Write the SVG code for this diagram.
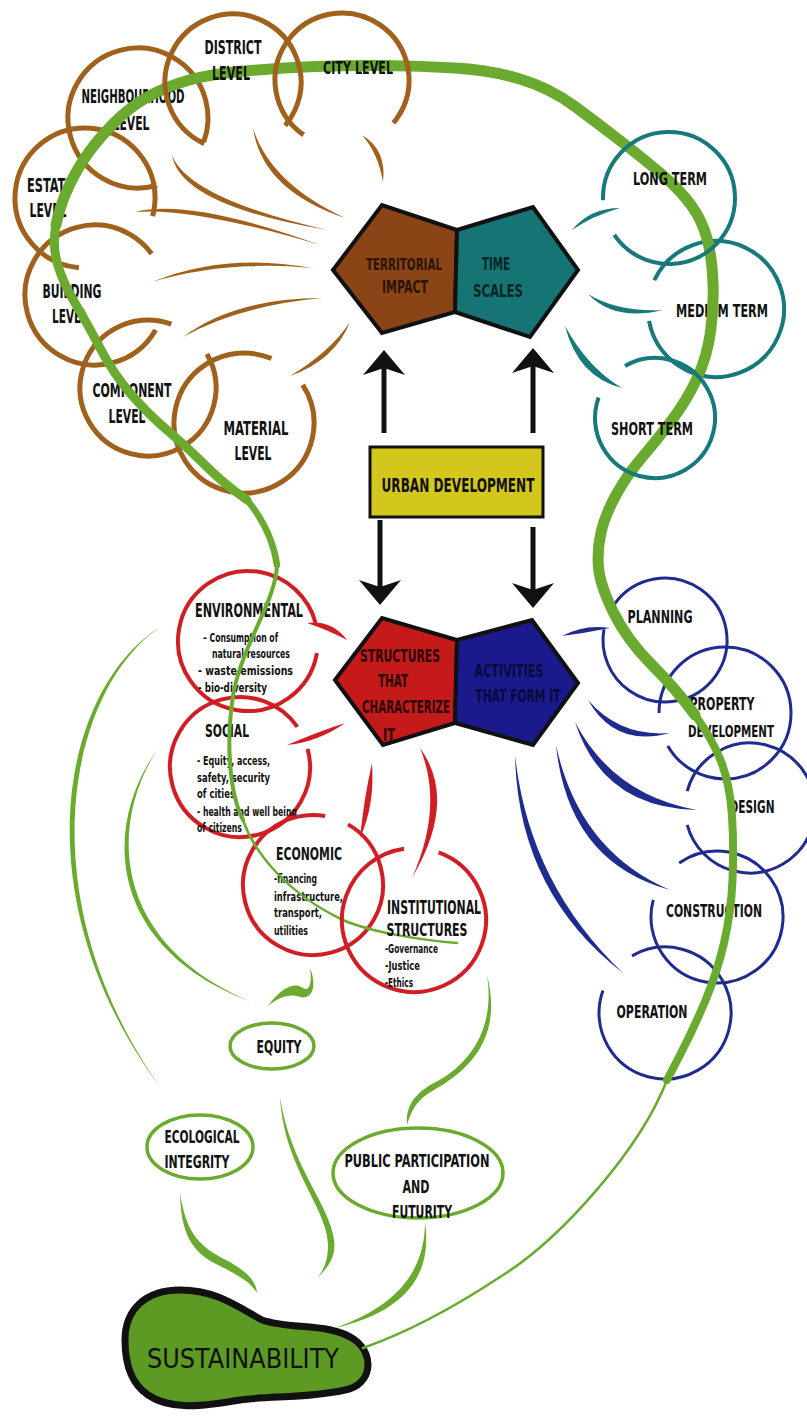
<svg xmlns="http://www.w3.org/2000/svg" width="807" height="1416" viewBox="0 0 807 1416">
<defs>
<style>
.lb{font-family:"Liberation Sans Narrow","DejaVu Sans Condensed","Arial Narrow",sans-serif;font-weight:bold;fill:#111;text-anchor:middle;font-size:20px}
.md{font-size:18px}
.sm{font-family:"Liberation Sans Narrow","DejaVu Sans Condensed","Arial Narrow",sans-serif;font-weight:bold;fill:#111;font-size:13px}
.brc{fill:none;stroke:#a0611d;stroke-width:5}
.tlc{fill:none;stroke:#17797a;stroke-width:4}
.rdc{fill:none;stroke:#cf1f25;stroke-width:4}
.blc{fill:none;stroke:#1f2c8e;stroke-width:3}
.gre{fill:none;stroke:#6aab2f;stroke-width:3.5}
.pent{stroke:#111;stroke-width:4;stroke-linejoin:miter}
.wbr{fill:#a0611d}.wtl{fill:#17797a}.wrd{fill:#cf1f25}.wbl{fill:#1f2c8e}.wgr{fill:#6aab2f}
.gl{fill:none;stroke:#6aab2f;stroke-linecap:round;stroke-linejoin:round}
.arr{fill:none;stroke:#111;stroke-width:5;marker-end:url(#ah)}
</style>
<marker id="ah" viewBox="0 0 25 42" refX="18" refY="21" markerWidth="25" markerHeight="42" markerUnits="userSpaceOnUse" orient="auto">
<path d="M25,21 L0,0 L7,21 L0,42 Z" fill="#111"/>
</marker>
</defs>
<rect width="807" height="1416" fill="#fff"/>

<!-- brown territorial nodes -->
<g id="neighbourhood-level">
<circle class="brc" cx="138" cy="118" r="70" pathLength="360" stroke-dasharray="305 55" transform="rotate(75 138 118)"/>
<text class="lb" x="133" y="103" textLength="103" lengthAdjust="spacingAndGlyphs">NEIGHBOURHOOD</text>
<text class="lb" x="131" y="130" textLength="37" lengthAdjust="spacingAndGlyphs">LEVEL</text>
</g>
<g id="estate-level">
<circle class="brc" cx="85" cy="198" r="70" pathLength="360" stroke-dasharray="280 80" transform="rotate(95 85 198)"/>
<text class="lb" x="50" y="192" textLength="46" lengthAdjust="spacingAndGlyphs">ESTATE</text>
<text class="lb" x="48" y="217" textLength="37" lengthAdjust="spacingAndGlyphs">LEVEL</text>
</g>
<g id="building-level">
<circle class="brc" cx="95" cy="295" r="70" pathLength="360" stroke-dasharray="294 66" transform="rotate(30 95 295)"/>
<text class="lb" x="72" y="298" textLength="59" lengthAdjust="spacingAndGlyphs">BUILDING</text>
<text class="lb" x="70" y="323" textLength="36" lengthAdjust="spacingAndGlyphs">LEVEL</text>
</g>
<g id="component-level">
<circle class="brc" cx="148" cy="388" r="68" pathLength="360" stroke-dasharray="320 40" transform="rotate(330 148 388)"/>
<text class="lb" x="132" y="397" textLength="79" lengthAdjust="spacingAndGlyphs">COMPONENT</text>
<text class="lb" x="127" y="423" textLength="37" lengthAdjust="spacingAndGlyphs">LEVEL</text>
</g>
<g id="material-level">
<circle class="brc" cx="244" cy="423" r="70" pathLength="360" stroke-dasharray="326 34" transform="rotate(327 244 423)"/>
<text class="lb" x="256" y="435" textLength="65" lengthAdjust="spacingAndGlyphs">MATERIAL</text>
<text class="lb" x="253" y="460" textLength="37" lengthAdjust="spacingAndGlyphs">LEVEL</text>
</g>

<!-- teal time node -->
<g id="medium-term">
<circle class="tlc" cx="716" cy="309" r="68" pathLength="360" stroke-dasharray="325 35" transform="rotate(205 716 309)"/>
<text class="lb md" x="722" y="317" textLength="92" lengthAdjust="spacingAndGlyphs">MEDIUM TERM</text>
</g>

<!-- pentagons -->
<g id="territorial-impact">
<polygon class="pent" points="333,270 382,205 457,230 455,312 382,333" fill="#8a4416"/>
<text class="lb md" x="404" y="270" style="fill:#2a1406;font-size:16px" textLength="76" lengthAdjust="spacingAndGlyphs">TERRITORIAL</text>
<text class="lb md" x="405" y="293" textLength="46" lengthAdjust="spacingAndGlyphs" style="fill:#2a1406">IMPACT</text>
</g>
<g id="time-scales">
<polygon class="pent" points="457,230 533,207 578,270 530,337 455,312" fill="#167474"/>
<text class="lb md" x="496" y="270" textLength="28" lengthAdjust="spacingAndGlyphs" style="fill:#062626">TIME</text>
<text class="lb md" x="498" y="297" textLength="50" lengthAdjust="spacingAndGlyphs" style="fill:#062626">SCALES</text>
</g>
<g id="urban-development">
<rect x="370" y="447" width="173" height="70" fill="#d3c61c" stroke="#111" stroke-width="3"/>
<text class="lb" x="458" y="492" textLength="153" lengthAdjust="spacingAndGlyphs">URBAN DEVELOPMENT</text>
</g>
<g id="structures">
<polygon class="pent" points="335,680 382,618 457,640 455,723 383,745" fill="#c41a1a"/>
<text class="lb md" x="400" y="662" textLength="80" lengthAdjust="spacingAndGlyphs" style="fill:#2a0505">STRUCTURES</text>
<text class="lb md" x="393" y="687" textLength="30" lengthAdjust="spacingAndGlyphs" style="fill:#2a0505">THAT</text>
<text class="lb md" x="406" y="713" textLength="88" lengthAdjust="spacingAndGlyphs" style="fill:#2a0505">CHARACTERIZE</text>
<text class="lb md" x="389" y="741" textLength="12" lengthAdjust="spacingAndGlyphs" style="fill:#2a0505">IT</text>
</g>
<g id="activities">
<polygon class="pent" points="457,640 532,620 578,683 533,745 455,723" fill="#1a1a8c"/>
<text class="lb md" x="509" y="677" textLength="69" lengthAdjust="spacingAndGlyphs" style="fill:#0a0a3a">ACTIVITIES</text>
<text class="lb md" x="518" y="702" textLength="85" lengthAdjust="spacingAndGlyphs" style="fill:#0a0a3a">THAT FORM IT</text>
</g>

<!-- red structure nodes -->
<g id="environmental">
<circle class="rdc" cx="248" cy="641" r="70" pathLength="360" stroke-dasharray="335 25" transform="rotate(10 248 641)"/>
<text class="lb" x="249" y="617" textLength="108" lengthAdjust="spacingAndGlyphs">ENVIRONMENTAL</text>
<text class="sm" x="203" y="642" textLength="75" lengthAdjust="spacingAndGlyphs">– Consumption of</text>
<text class="sm" x="212" y="658" textLength="78" lengthAdjust="spacingAndGlyphs">natural resources</text>
<text class="sm" x="198" y="675" textLength="95" lengthAdjust="spacingAndGlyphs">- waste/emissions</text>
<text class="sm" x="198" y="692" textLength="69" lengthAdjust="spacingAndGlyphs">- bio-diversity</text>
</g>
<g id="social">
<circle class="rdc" cx="240" cy="767" r="70" pathLength="360" stroke-dasharray="340 20" transform="rotate(345 240 767)"/>
<text class="lb md" x="227" y="737" textLength="44" lengthAdjust="spacingAndGlyphs">SOCIAL</text>
<text class="sm" x="197" y="765" textLength="73" lengthAdjust="spacingAndGlyphs">- Equity, access,</text>
<text class="sm" x="197" y="782" textLength="73" lengthAdjust="spacingAndGlyphs">safety, security</text>
<text class="sm" x="197" y="798" textLength="38" lengthAdjust="spacingAndGlyphs">of cities</text>
<text class="sm" x="197" y="816" textLength="100" lengthAdjust="spacingAndGlyphs">- health and well being</text>
<text class="sm" x="197" y="832" textLength="45" lengthAdjust="spacingAndGlyphs">of citizens</text>
</g>
<g id="economic">
<circle class="rdc" cx="313" cy="885" r="70" pathLength="360" stroke-dasharray="340 20" transform="rotate(300 313 885)"/>
<text class="lb md" x="309" y="860" textLength="66" lengthAdjust="spacingAndGlyphs">ECONOMIC</text>
<text class="sm" x="274" y="883" textLength="43" lengthAdjust="spacingAndGlyphs">-financing</text>
<text class="sm" x="274" y="901" textLength="69" lengthAdjust="spacingAndGlyphs">infrastructure,</text>
<text class="sm" x="274" y="917" textLength="48" lengthAdjust="spacingAndGlyphs">transport,</text>
<text class="sm" x="274" y="935" textLength="34" lengthAdjust="spacingAndGlyphs">utilities</text>
</g>

<!-- blue activity nodes -->
<g id="planning">
<circle class="blc" cx="665" cy="640" r="62" pathLength="360" stroke-dasharray="335 25" transform="rotate(215 665 640)"/>
<text class="lb md" x="660" y="623" textLength="65" lengthAdjust="spacingAndGlyphs">PLANNING</text>
</g>
<g id="property-development">
<circle class="blc" cx="725" cy="713" r="66" pathLength="360" stroke-dasharray="330 30" transform="rotate(180 725 713)"/>
<text class="lb md" x="722" y="710" textLength="65" lengthAdjust="spacingAndGlyphs">PROPERTY</text>
<text class="lb md" x="731" y="737" style="font-size:16px" textLength="86" lengthAdjust="spacingAndGlyphs">DEVELOPMENT</text>
</g>
<g id="design">
<circle class="blc" cx="750" cy="808" r="65" pathLength="360" stroke-dasharray="330 30" transform="rotate(195 750 808)"/>
<text class="lb md" x="752" y="813" textLength="45" lengthAdjust="spacingAndGlyphs">DESIGN</text>
</g>
<g id="construction">
<circle class="blc" cx="717" cy="917" r="66" pathLength="360" stroke-dasharray="320 40" transform="rotate(235 717 917)"/>
<text class="lb md" x="714" y="917" textLength="96" lengthAdjust="spacingAndGlyphs">CONSTRUCTION</text>
</g>
<g id="operation">
<circle class="blc" cx="665" cy="1013" r="66" pathLength="360" stroke-dasharray="320 40" transform="rotate(240 665 1013)"/>
<text class="lb md" x="652" y="1018" textLength="71" lengthAdjust="spacingAndGlyphs">OPERATION</text>
</g>

<!-- green principle nodes -->
<g id="equity">
<ellipse class="gre" cx="272" cy="1046" rx="42" ry="23"/>
<text class="lb md" x="279" y="1053" textLength="45" lengthAdjust="spacingAndGlyphs">EQUITY</text>
</g>
<g id="ecological-integrity">
<ellipse class="gre" cx="200" cy="1147" rx="53" ry="32"/>
<text class="lb md" x="202" y="1143" textLength="75" lengthAdjust="spacingAndGlyphs">ECOLOGICAL</text>
<text class="lb md" x="197" y="1168" textLength="65" lengthAdjust="spacingAndGlyphs">INTEGRITY</text>
</g>
<g id="public-participation">
<ellipse class="gre" cx="418" cy="1173" rx="85" ry="45"/>
<text class="lb md" x="417" y="1167" textLength="145" lengthAdjust="spacingAndGlyphs">PUBLIC PARTICIPATION</text>
<text class="lb md" x="416" y="1193" textLength="27" lengthAdjust="spacingAndGlyphs">AND</text>
<text class="lb md" x="422" y="1218" textLength="60" lengthAdjust="spacingAndGlyphs">FUTURITY</text>
</g>
<g id="sustainability">
<path d="M125,1340 C125,1310 145,1290 180,1290 C215,1290 235,1305 262,1320 C290,1330 330,1322 355,1340 C375,1355 372,1385 345,1390 C310,1398 270,1396 240,1400 C200,1407 170,1410 148,1395 C130,1383 125,1360 125,1340 Z" fill="#5c9a24" stroke="#111" stroke-width="7"/>
<text x="147" y="1368" textLength="192" lengthAdjust="spacingAndGlyphs" style="font-family:'DejaVu Sans',sans-serif;font-size:26px;fill:#111">SUSTAINABILITY</text>
</g>

<g id="connectors">
<!-- brown wisps -->
<path class="wbr" d="M172,155 Q180,205 327,230 Q188,198 172,155 Z"/>
<path class="wbr" d="M253,128 Q262,190 345,218 Q270,183 253,128 Z"/>
<path class="wbr" d="M135,212 Q190,198 320,245 Q192,207 135,212 Z"/>
<path class="wbr" d="M362,135 Q387,150 383,182 Q378,153 362,135 Z"/>
<path class="wbr" d="M152,282 Q225,252 312,268 Q225,260 152,282 Z"/>
<path class="wbr" d="M183,337 Q235,298 322,298 Q238,306 183,337 Z"/>
<path class="wbr" d="M290,376 Q335,360 350,322 Q330,352 290,376 Z"/>
<!-- teal wisps -->
<path class="wtl" d="M572,230 Q590,208 620,208 Q592,216 572,230 Z"/>
<path class="wtl" d="M588,294 Q615,322 663,310 Q617,312 588,294 Z"/>
<path class="wtl" d="M565,326 Q578,377 622,388 Q588,368 565,326 Z"/>
<!-- red wisps -->
<path class="wrd" d="M307,623 Q332,620 347,640 Q328,630 307,623 Z"/>
<path class="wrd" d="M287,745 Q318,742 345,723 Q320,731 287,745 Z"/>
<path class="wrd" d="M372,763 Q375,805 360,838 Q364,798 372,763 Z"/>
<path class="wrd" d="M420,748 Q458,800 412,878 Q444,806 420,748 Z"/>
<!-- blue wisps -->
<path class="wbl" d="M562,636 Q585,624 610,628 Q585,633 562,636 Z"/>
<path class="wbl" d="M588,700 Q615,748 670,733 Q620,737 588,700 Z"/>
<path class="wbl" d="M575,722 Q603,808 697,810 Q613,795 575,722 Z"/>
<path class="wbl" d="M556,745 Q568,862 670,890 Q579,851 556,745 Z"/>
<path class="wbl" d="M515,755 Q518,892 623,973 Q529,884 515,755 Z"/>
<!-- green wisps to principles -->
<path class="wgr" d="M160,627 C60,690 20,900 162,1090 C27,900 66,692 160,627 Z"/>
<path class="wgr" d="M157,750 C100,830 110,950 252,1002 C116,946 106,830 157,750 Z"/>
<path class="wgr" d="M268,1006 C282,986 296,982 303,988 C310,992 312,982 310,968 C317,985 313,1000 300,997 C292,994 282,995 268,1006 Z"/>
<path class="wgr" d="M487,975 C497,1040 458,1072 430,1085 C410,1098 406,1110 407,1125 C412,1110 416,1100 434,1090 C466,1072 504,1040 487,975 Z"/>
<path class="wgr" d="M280,1097 C284,1170 330,1210 328,1248 C327,1265 322,1272 317,1278 C330,1266 336,1255 334,1240 C330,1205 290,1165 280,1097 Z"/>
<path class="wgr" d="M180,1193 C181,1232 190,1252 220,1266 C242,1277 252,1284 257,1293 C256,1280 246,1271 226,1260 C196,1245 186,1230 180,1193 Z"/>
<path class="wgr" d="M425,1222 C425,1270 398,1306 335,1328 C405,1312 433,1275 425,1222 Z"/>
<!-- main green sustainability loop -->
<path class="gl" stroke-width="2.5" d="M243,820 C255,855 290,895 343,920 C370,932 420,940 457,943"/>
<path class="gl" stroke-width="4" d="M277,565 C276,600 245,640 234,690 C226,735 228,790 243,820"/>
<path class="gl" stroke-width="6.5" d="M247,500 Q272,530 277,565"/>
<path class="gl" stroke-width="9" d="M247,500 L233.5,490 Q220,480 203.5,463.5 Q187,447 167,430 Q147,413 130,393 Q113,373 100,348 Q87,323 75,303 Q63,283 57.5,264 Q52,245 56,225"/>
<path class="gl" stroke-width="11" d="M56,225 Q60,205 69,186 Q78,167 89,152 Q100,137 115,122 Q130,107 147.5,97 Q165,87 187.5,80.5 Q210,74 245,71 Q280,68 315,66.5 Q350,65 385,65.5 Q420,66 455,68 Q490,70 520,79 Q550,88 575,106.5 Q600,125 622.5,142.5 Q645,160 662.5,175 Q680,190 691,205 Q702,220 707,238.5 Q712,257 713,282 Q714,307 710.5,332 Q707,357 697,378.5 Q687,400 672,420 Q657,440 642,457.5 Q627,475 616,495 Q605,515 601,532.5 Q597,550 598.5,567.5 Q600,585 613.5,612.5 Q627,640 652,665 Q677,690 695,715"/>
<path class="gl" stroke-width="8" d="M695,715 Q713,740 721.5,762.5 Q730,785 732,816 Q734,847 732.5,880 Q731,913 724,943 Q717,973 705,1001.5 Q693,1030 680,1055 L667,1080"/>
<path class="gl" stroke-width="2.5" d="M667,1080 C640,1150 560,1240 500,1277 C450,1310 400,1335 363,1348"/>
<!-- arrows -->
<path class="arr" d="M384,433 L384,357"/>
<path class="arr" d="M533,433 L533,355"/>
<path class="arr" d="M380,520 L380,598"/>
<path class="arr" d="M533,527 L533,601"/>
</g>

<!-- nodes whose labels sit above the green loop -->
<g id="district-level">
<circle class="brc" cx="233" cy="82" r="68" pathLength="360" stroke-dasharray="285 75" transform="rotate(115 233 82)"/>
<text class="lb" x="233" y="54" textLength="57" lengthAdjust="spacingAndGlyphs">DISTRICT</text>
<text class="lb" x="231" y="80" textLength="38" lengthAdjust="spacingAndGlyphs">LEVEL</text>
</g>
<g id="city-level">
<circle class="brc" cx="342" cy="80" r="67" pathLength="360" stroke-dasharray="275 85" transform="rotate(125 342 80)"/>
<text class="lb md" x="358" y="74" textLength="70" lengthAdjust="spacingAndGlyphs">CITY LEVEL</text>
</g>
<g id="long-term">
<circle class="tlc" cx="669" cy="198" r="66" pathLength="360" stroke-dasharray="328 32" transform="rotate(178 669 198)"/>
<text class="lb md" x="670" y="185" textLength="74" lengthAdjust="spacingAndGlyphs">LONG TERM</text>
</g>
<g id="short-term">
<circle class="tlc" cx="655" cy="418" r="60" pathLength="360" stroke-dasharray="320 40" transform="rotate(240 655 418)"/>
<text class="lb md" x="652" y="435" textLength="82" lengthAdjust="spacingAndGlyphs">SHORT TERM</text>
</g>
<g id="institutional-structures">
<circle class="rdc" cx="414" cy="920" r="72" pathLength="360" stroke-dasharray="332 28" transform="rotate(290 414 920)"/>
<text class="lb" x="434" y="914" textLength="94" lengthAdjust="spacingAndGlyphs">INSTITUTIONAL</text>
<text class="lb md" x="427" y="936" textLength="81" lengthAdjust="spacingAndGlyphs">STRUCTURES</text>
<text class="sm" x="385" y="953" textLength="53" lengthAdjust="spacingAndGlyphs">-Governance</text>
<text class="sm" x="385" y="970" textLength="35" lengthAdjust="spacingAndGlyphs">-Justice</text>
<text class="sm" x="385" y="987" textLength="28" lengthAdjust="spacingAndGlyphs">-Ethics</text>
</g>
</svg>
